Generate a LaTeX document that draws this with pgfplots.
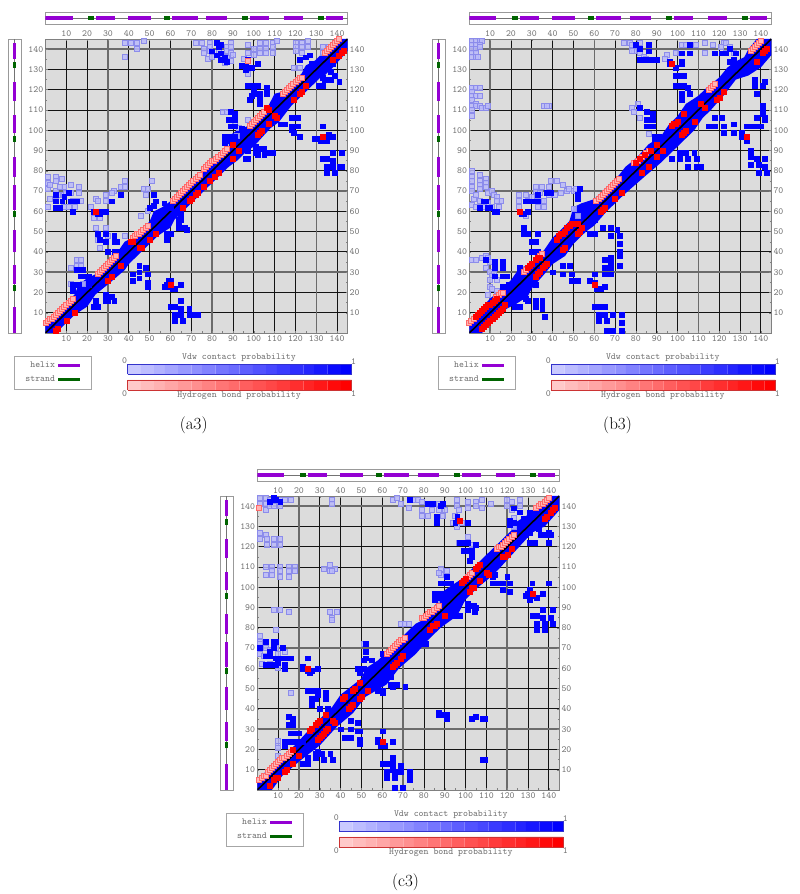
\documentclass[border=0pt]{standalone}
\usepackage{fontspec}
\usepackage{pgfplots}
\pgfplotsset{compat=1.18}

\definecolor{helixc}{RGB}{148,0,211}
\definecolor{strandc}{RGB}{0,100,0}
\definecolor{mapbg}{RGB}{220,220,220}
\definecolor{lightfill}{RGB}{186,186,250}
\definecolor{lightdraw}{RGB}{140,140,235}
\definecolor{pinkfill}{RGB}{255,180,180}
\definecolor{pinkdraw}{RGB}{255,105,105}
\newcommand\tk{\fontsize{9.4}{11}\ttfamily}

\pgfplotsset{
  cmap/.style={scale only axis,width=302pt,height=294pt,
    xmin=0,xmax=145,ymin=0,ymax=145,
    xtick={10,20,...,140},ytick={10,20,...,140},
    /pgf/number format/assume math mode=true,
    tick label style={font=\tk,text=black!55,inner sep=2pt},
    tick style={black!50,line width=.4pt},
    major tick length=2pt,minor tick length=1.5pt,tick align=inside},
  lightpt/.style={only marks,mark=square*,mark size=2.5pt,
    mark options={draw=lightdraw,fill=lightfill,fill opacity=.85,line width=.7pt}},
  bluept/.style={only marks,mark=square*,mark size=2.45pt,
    mark options={draw=blue,fill=blue}},
  pinkpt/.style={only marks,mark=square*,mark size=2.5pt,
    mark options={draw=pinkdraw,fill=pinkfill,line width=.8pt}},
  redpt/.style={only marks,mark=square*,mark size=2.5pt,
    mark options={draw=red,fill=red}},
  band/.style={draw=none,fill=blue},
  diag/.style={black,line width=1.6pt},
  legbox/.style={scale only axis,width=83.3pt,height=33.3pt,hide axis,
    xmin=0,xmax=1,ymin=0,ymax=1,
    legend plot pos=right,legend cell align=right,
    legend image code/.code={\draw[##1] (0pt,0pt)--(22pt,0pt);},
    legend style={at={(0.5,0.5)},anchor=center,draw=black!35,
      font=\tk,text=black!55,row sep=3pt,
      inner xsep=9.5pt,inner ysep=4pt}},
  rampbox/.style={scale only axis,width=224pt,height=10pt,hide axis,
    xmin=16,xmax=100,ymin=0,ymax=1,clip=false},
}

\newcommand\rampcell[3]{\addplot[draw=none,fill=#1!#3] coordinates {(#2,0)(#3,0)(#3,1)(#2,1)} \closedcycle;}
\newcommand\ramp[1]{%
  \rampcell{#1}{16}{21}\rampcell{#1}{21}{26}\rampcell{#1}{26}{30}\rampcell{#1}{30}{35}%
  \rampcell{#1}{35}{40}\rampcell{#1}{40}{44}\rampcell{#1}{44}{49}\rampcell{#1}{49}{54}%
  \rampcell{#1}{54}{58}\rampcell{#1}{58}{63}\rampcell{#1}{63}{68}\rampcell{#1}{68}{72}%
  \rampcell{#1}{72}{77}\rampcell{#1}{77}{82}\rampcell{#1}{82}{86}\rampcell{#1}{86}{91}%
  \rampcell{#1}{91}{96}\rampcell{#1}{96}{100}%
  \addplot[#1!60!gray,line width=.7pt] coordinates {(16,0)(100,0)(100,1)(16,1)(16,0)};}

% secondary structure, same for all three
\newcommand\helixsegs{(0,.5)(13,.5)(nan,.5)(24.3,.5)(33.4,.5)(nan,.5)(39.7,.5)(50.7,.5)(nan,.5)(60.8,.5)(73,.5)(nan,.5)(77,.5)(87,.5)(nan,.5)(98.4,.5)(107.4,.5)(nan,.5)(114.6,.5)(123.7,.5)(nan,.5)(134.9,.5)(142.9,.5)}
\newcommand\strandsegs{(20.5,.5)(23.5,.5)(nan,.5)(57,.5)(60,.5)(nan,.5)(94.4,.5)(97.4,.5)(nan,.5)(130.9,.5)(133.8,.5)}
\newcommand\helixsegsv{(.5,0)(.5,13)(.5,nan)(.5,24.3)(.5,33.4)(.5,nan)(.5,39.7)(.5,50.7)(.5,nan)(.5,60.8)(.5,73)(.5,nan)(.5,77)(.5,87)(.5,nan)(.5,98.4)(.5,107.4)(.5,nan)(.5,114.6)(.5,123.7)(.5,nan)(.5,134.9)(.5,142.9)}
\newcommand\strandsegsv{(.5,20.5)(.5,23.5)(.5,nan)(.5,57)(.5,60)(.5,nan)(.5,94.4)(.5,97.4)(.5,nan)(.5,130.9)(.5,133.8)}

\newcommand\dataA{
\addplot[lightpt] coordinates {(38,136)(38,143)(41,143)(44,143)(44,140)(47,144)
(72,143)(75,143)(76,140)(76,138)(79,143)(79,141)(79,139)(78,135)(80,136)(83,142)(83,139)(85,137)(87,141)(87,139)(87,136)(89,134)(89,143)(89,141)(89,138)(90,137)(86,133)
(97,142)(97,138)(100,140)(100,137)(103,143)(103,140)(103,138)(106,143)(106,140)(106,138)(109,143)(109,141)(109,138)(111,144)
(120,143)(120,141)(120,139)(123,143)(123,141)(123,138)(126,144)(126,141)(119,131)(122,131)(133,141)(133,138)(136,141)
(85,109)(87,109)(91,107)(91,103)(93,101)(97,105)(92,97)(97,128)(95,135)
(1,77)(1,74)(1,71)(2,73)(2,66)(1,62)(5,77)(5,75)(5,70)(8,76)(9,72)(9,68)(12,73)(12,69)(16,72)(16,69)(17,65)(5,65)(6,68)(10,69)(13,65)(15,65)(9,62)(11,62)(14,62)(7,72)
(22,62)(24,66)(25,65)(29,65)(29,68)(33,70)(36,72)(38,72)(38,75)(32,69)(23,57)(26,57)(24,52)(29,52)
(30,48)(29,45)(38,48)(46,58)(49,60)(47,71)(48,68)(51,75)(49,71)
(12,32)(15,36)(17,36)(15,33)(17,33)(12,24)(18,24)(26,42)(25,46)};
\addplot[band] coordinates {(0,5)(14,19)(16,24)(20,27)(24,29)(34,39)(38,45)(42,47)(50,55)(52,60)(56,62)(60,65)(74,79)(78,83)(88,92)(88,97)(92,100)(97,102)(107,112)(110,118)(114,119)(123,128)(125,132)(129,134)(132,137)(134,139)(140,145)(145,145)(145,139)(138,131)(134,127)(132,126)(122,116)(118,112)(112,104)(108,101)(100,92)(96,89)(92,85)(88,82)(80,74)(72,66)(66,60)(62,56)(60,52)(54,48)(48,42)(44,38)(40,34)(38,31)(30,24)(24,19)(20,13)(14,9)(8,3)(5,0)(0,0)} --cycle;
\addplot[bluept] coordinates {(82,143)(83,141)(80,139)(82,137)(84,135)(87,134)(84,138)(86,136)(84,142)
(133,102)(129,96)(131,96)(132,95)(134,95)(135,95)(136,98)(138,97)(133,97)
(133,86)(135,86)(138,89)(142,89)(138,85)(135,82)(138,82)(142,82)(141,82)(135,79)(139,79)
(96,86)(97,86)(97,90)(101,92)(101,89)(105,91)(105,88)(109,89)(102,88)(104,91)(106,89)
(114,103)(113,103)(118,106)(121,106)(118,102)(118,100)(121,102)(122,97)(119,99)(115,103)
(97,122)(99,122)(102,122)(102,118)(103,118)(106,121)(106,118)(103,115)(103,113)(100,120)(98,115)(99,117)
(131,122)(133,122)(136,125)(137,125)(141,124)(134,125)(133,126)(129,126)(139,127)(137,129)(138,133)
(96,132)(97,131)(102,133)(94,132)(96,130)(99,131)(97,135)(125,136)(128,133)(122,135)(127,137)
(89,109)(91,108)(89,105)(88,105)(91,105)(89,102)(91,102)(86,97)(89,97)(86,94)(91,97)(89,95)(94,101)
(5,62)(7,62)(8,65)(12,65)(15,65)(13,60)(5,65)(9,67)(11,69)(5,68)
(32,65)(36,68)(26,59)(29,60)(25,59)(27,60)(23,60)
(25,49)(29,49)(26,46)(29,45)(33,48)(33,45)(34,45)(33,40)(34,40)(30,40)
(15,31)(18,31)(19,28)(21,28)(17,28)(13,24)(13,21)(16,24)(21,24)
(24,16)(23,13)(25,13)(29,16)(29,19)(32,18)(33,16)(30,16)
(42,26)(45,33)(45,30)(45,27)(48,32)(49,29)(49,25)(49,23)(42,29)
(57,23)(59,26)(59,23)(61,22)(62,22)(65,24)(58,24)(60,26)
(60,13)(62,13)(65,16)(65,12)(62,9)(62,6)(66,6)(65,9)(69,12)(69,9)(70,9)(73,9)
(58,49)(60,49)(58,46)(64,56)(65,52)(68,51)(65,59)(64,54)
(52,68)(53,65)(57,64)(60,62)(50,62)(52,63)(65,56)(64,52)(67,52)};
\addplot[pinkpt] coordinates {(0,5)(1,6)(2,7)(3,7)(4,8)(5,9)(6,10)(7,11)(8,12)(9,13)(10,14)(11,15)(12,16)(13,17)
(25,29)(26,30)(27,31)(28,32)(29,33)(30,34)(31,35)(32,36)(33,37)(34,38)
(42,47)(43,48)(44,49)(45,49)(46,50)(47,51)(48,52)(49,53)
(61,65)(62,66)(63,67)(64,68)(65,69)(66,70)(67,71)(68,72)(69,73)(70,74)(71,75)(72,76)(73,77)(74,78)
(76,81)(77,82)(78,83)(79,84)(80,85)(81,85)(82,86)(83,87)(84,88)(85,89)(86,90)(87,91)
(98,102)(99,103)(100,104)(101,105)(102,106)(103,107)(104,108)(105,109)
(114,118)(115,119)(116,120)(117,121)(118,122)(119,123)(120,124)(121,125)(122,126)(123,126)
(134,138)(135,139)(136,140)(137,141)(138,142)(139,143)(140,144)(141,145)(97,134)};
\addplot[redpt] coordinates {(6,2)(5,1)(10,6)(14,10)(30,26)(32,28)(36,33)(41,45)(42,45)(45,42)(46,42)(50,46)(53,49)(24,60)(60,24)
(66,62)(69,65)(70,66)(72,68)(73,69)(76,72)(79,75)(81,77)(83,79)(90,93)(93,90)(90,86)
(102,98)(103,99)(104,100)(107,103)(106,111)(107,110)(110,107)(111,106)(119,115)(122,118)(123,119)(125,122)
(133,97)(138,135)(141,137)(143,139)(142,138)};
\addplot[diag] coordinates {(0,0)(145,145)};
}

\newcommand\dataB{
\addplot[lightpt] coordinates {(1,144)(3,144)(5,144)(6,144)(1,142)(3,142)(5,142)(1,140)(3,140)(5,141)(1,138)(3,138)(1,136)(3,136)(4,136)
(1,121)(3,121)(5,121)(1,119)(1,117)(3,117)(5,117)(1,115)(3,113)(1,112)(3,112)(5,112)(6,111)(8,111)(9,112)(1,110)(1,107)(36,112)(38,112)(37,112)
(1,80)(1,77)(1,75)(1,72)(1,70)(2,66)(1,63)(5,78)(5,75)(5,73)(5,71)(8,76)(8,74)(8,72)(9,69)(11,70)(12,68)(13,67)(5,65)(3,68)(15,65)(13,65)(9,64)(11,62)(7,62)(5,62)(3,62)(14,62)
(24,68)(27,68)(24,65)(28,65)(33,65)(33,62)(35,65)(36,62)(32,70)(32,72)(35,72)(38,72)(39,75)(42,75)(38,68)(41,68)(36,65)(30,67)(34,69)(45,73)(47,70)(50,70)(44,69)(48,71)(51,71)(24,62)(27,58)
(74,143)(77,143)(78,142)(79,139)(82,143)(78,139)(82,138)(84,136)(85,135)(95,137)(94,135)(99,138)(102,142)(104,142)(109,142)(113,143)(113,138)(117,142)(122,143)(123,143)(121,141)(123,138)(125,141)(127,138)
(78,111)(81,113)(79,109)(82,106)(86,98)(52,58)(50,61)
(1,36)(3,36)(6,37)(8,38)(9,37)(10,35)(8,32)(10,30)(12,29)(11,28)(13,26)(10,23)(11,22)(13,21)(9,19)(10,26)};
\addplot[band] coordinates {(0,6)(10,17)(16,22)(20,26)(24,32)(30,34)(36,41)(40,47)(48,55)(50,62)(54,64)(60,66)(65,71)(72,78)(75,82)(80,86)(86,93)(92,97)(96,103)(100,107)(104,113)(110,117)(114,121)(120,126)(124,131)(128,134)(132,136)(134,140)(138,145)(145,145)(145,137)(140,131)(134,127)(128,125)(122,117)(116,110)(112,106)(108,100)(100,92)(92,84)(84,77)(74,68)(66,60)(60,53)(56,50)(50,44)(46,38)(40,34)(36,29)(30,22)(28,18)(22,14)(18,12)(12,6)(6,0)(0,0)} --cycle;
\addplot[bluept] coordinates {(12,60)(13,60)(5,62)(7,65)(9,62)(8,65)(10,62)
(33,68)(37,69)(39,69)(33,65)(27,65)(30,65)(26,59)(28,60)(25,59)(52,66)(52,68)(53,71)
(80,142)(82,140)(86,142)(86,139)(82,135)(84,135)(87,135)(90,135)(96,134)(96,133)(99,131)(102,133)(102,134)(102,138)(106,142)(106,138)(118,138)(121,138)(123,138)(125,140)(128,138)(127,135)(125,134)
(99,127)(101,127)(103,127)(99,122)(101,122)(103,122)(102,118)(102,115)(105,121)(106,118)
(137,125)(137,122)(141,122)(138,118)(142,124)(141,112)(141,110)(141,108)(142,105)(138,106)(142,106)
(133,102)(135,102)(137,102)(140,102)(131,99)(131,97)(133,95)(118,106)(121,106)(115,102)(118,102)(122,102)(122,99)(127,103)(127,99)
(135,90)(135,87)(138,86)(142,86)(135,83)(139,83)(142,82)(139,79)(143,79)
(97,86)(101,89)(104,89)(108,89)(101,86)(105,86)(109,86)(105,82)(109,82)(111,82)
(82,111)(85,109)(88,108)(85,105)(88,105)(85,102)(88,102)(89,97)(91,97)(89,94)
(64,52)(68,52)(71,51)(68,48)(72,48)(72,44)(72,40)(72,38)(72,33)(68,37)(68,35)(65,36)(65,32)(68,32)(65,29)(68,29)(60,29)(58,26)(60,25)(65,23)(63,22)(61,22)
(45,33)(48,33)(45,29)(49,29)(49,26)(52,26)(40,30)(32,24)(58,49)(60,49)(58,55)(60,56)
(60,13)(62,13)(65,13)(62,9)(65,9)(69,9)(73,9)(62,6)(66,6)(73,5)(66,1)(69,1)(73,1)
(26,18)(28,16)(32,16)(35,16)(32,13)(35,14)(35,12)(36,8)(22,13)(24,13)(27,17)
(26,52)(26,49)(28,49)(33,49)(30,45)(32,45)(30,40)(33,40)(24,32)
(8,36)(12,35)(16,35)(12,32)(16,32)(12,28)(16,28)(18,28)(16,23)(19,24)(18,22)};
\addplot[pinkpt] coordinates {(0,5)(1,6)(2,7)(13,18)(14,19)(15,20)(16,20)(26,30)(27,31)(34,38)(35,39)
(61,65)(62,66)(63,67)(64,68)(65,69)(66,70)(67,71)(68,72)(69,73)(70,74)(71,75)(72,76)
(79,84)(81,85)(83,87)(85,89)(86,90)(115,120)(116,121)(117,122)(118,123)(135,139)(136,140)(137,141)(138,142)(139,143)(140,144)};
\addplot[redpt] coordinates {(3,8)(4,9)(5,10)(6,11)(7,12)(8,13)(9,14)(10,14)(11,15)(12,16)(13,17)
(6,2)(7,3)(8,4)(9,5)(10,6)(11,7)(12,8)(13,9)(14,10)(15,11)(16,12)(17,14)
(28,32)(29,33)(30,34)(32,36)(33,37)(34,37)(32,28)(33,29)(34,30)(35,32)(36,33)(37,34)
(42,46)(43,48)(44,49)(45,49)(46,50)(47,52)(48,53)(49,54)(46,42)(45,41)(52,49)(53,50)(54,52)(52,54)
(24,60)(60,24)(63,60)(64,61)(65,62)(70,66)(73,69)(83,79)(86,82)(90,87)(93,90)(90,93)(87,90)(80,84)(82,86)(84,88)
(97,102)(98,103)(99,103)(100,104)(103,108)(103,99)(104,100)(102,98)(108,104)(111,113)(113,111)(119,115)(120,116)(122,119)
(97,133)(133,97)(138,134)(141,138)(143,140)(142,139)};
\addplot[diag] coordinates {(0,0)(145,145)};
}

\newcommand\dataC{
\addplot[lightpt] coordinates {(1,144)(1,141)(4,144)(4,141)(4,138)(6,143)(6,140)(8,140)(11,143)(11,140)(13,143)(16,143)(36,143)(36,141)
(65,143)(67,144)(69,141)(73,139)(75,143)(77,143)(79,142)(79,138)(79,135)(82,135)(84,138)(87,141)(87,138)(90,138)(89,135)
(96,143)(96,140)(101,142)(101,139)(105,142)(105,140)(108,143)(108,139)(112,141)(95,135)(94,132)(96,130)(98,132)(97,138)
(120,143)(120,140)(122,142)(126,143)(126,140)(122,138)(123,134)(123,130)
(1,127)(1,124)(4,126)(4.5,124)(8,124)(11,124)(4.5,121)(8,121)(11,121)
(4,110)(7,110)(7,108)(4,106)(7,106)(11,110)(11,108)(11,105)(15,110)(15,108)(15,105)(18,110)(18,108)(32,109)(35,111)(35,108)(37,109)(36,108)
(8,89)(11,89)(15,88)(35,88)(38,88)(36,85)(36,84)(9,79)(69,82)(71,82)(73,82)
(1,76)(1,73)(4,73)(1,67)(4,70)(1,72)(6,69)(2,62)(6,62)(10,60)(10,67)(13,68)(3,66)(9,70)(16,48)
(10,24)(10,22)(10,21)(10,17)(51,72)(97,122)(101,125)(103,121)(88,109)(91,108)(88,106)(87,107)(86,94)};
\addplot[band] coordinates {(0,5)(10,15)(18,22)(26,31)(36,41)(40,47)(50,55)(52,60)(58,64)(64,70)(72,78)(76,82)(80,84)(86,92)(88,97)(92,100)(98,104)(106,112)(110,116)(114,120)(122,128)(124,132)(132,137)(138,143)(140,145)(145,145)(145,138)(138,130)(132,127)(124,118)(116,109)(112,105)(106,100)(100,94)(96,86)(88,80)(82,74)(76,67)(68,60)(62,52)(52,46)(46,38)(38,31)(30,22)(20,14)(12,7)(7,0)(0,0)} --cycle;
\addplot[bluept] coordinates {(8,144)(9,143)(11,142)(6,142)(73,143)(82,141)(84,141)(86,135)(86,132)(88,140)(89,141)(96,135)(101,132)(95,132)
(121,133)(121,131)(126,137)(123,139)(131,137)(126,131)(123,132)(128,134)
(4,73)(8,73)(9,73)(1,70)(8,70)(12,70)(4,66)(6,66)(9,65)(11,65)(13,65)(16,65)(7,62)(4,62)(9,62)(13,62)(13,60)(10,63)(6,68)
(24,65)(22,61)(25,58)(29,60)(22,60)(26,59)(24,59)
(24,49)(26,49)(29,49)(29,47)(33,48)(26,45)(28,45)(33,45)(26,42)(30,40)(34,40)
(15,36)(17,35)(15,32)(17,32)(16,28)(20,28)(18,28)(16,24)(13,24)(13,22)(17,24)(22,24)(19,24)
(24,16)(22,13)(24,13)(28,18)(28,16)(31,18)(35,18)(32,15)(36,15)(29,19)
(40,30)(45,34)(48,33)(45,30)(48,29)(49,29)(45,26)(42,26)(49,25)(49,23)
(60,29)(58,25)(59,23)(61,22)(65,24)(58,24)(59,22)
(60,13)(62,13)(65,16)(65,13)(65,10)(69,12)(62,9)(62,6)(66,6)(66,9)(69,9)(73,9)(73,7)(73,5)(66,1)(70,1)
(87,38)(87,37)(88,37)(91,37)(91,35)(103,35)(105,36)(108,35)(109,35)(108,15)(109,15)
(48,60)(52,65)(52,68)(51,64)(55,64)(60,67)(51,60)(49,58)(52,72)(58,49)(60,49)(60,48)(58,50)(64,56)(64,52)(67,52)(71,51)(65,51)(78,72)(81,72)
(97,122)(100,122)(101,122)(105,121)(99,118)(100,118)(103,118)(102,113)(103,115)
(113,105)(113,102)(115,102)(118,102)(118,99)(121,102)(121,98)(120,105)(114,106)
(132,102)(140,102)(130,97)(131,99)(134,95)(137,97)(131,94)(129,96)(132,96)
(137,89)(142,89)(132,86)(134,86)(137,85)(141,85)(134,82)(138,82)(142,82)(134,79)(138,79)
(95,86)(97,86)(101,92)(101,89)(104,91)(104.5,88)(105,90)
(91,105)(88,102)(91,102)(93,102)(85,97)(88,97)(88,95)(85,94)
(131,122)(133,122)(129,126)(131,127)(136,126)(138,126)(140,127)(141,126)(140,122)(135,129)};
\addplot[pinkpt] coordinates {(1,139)(1,5)(2,6)(3,7)(4,7)(5,9)(6,10)(7,11)(8,12)(9,13)(10,14)(11,15)(12,16)(13,16)(14,17)(15,18)(16,19)
(62,67)(63,68)(64,69)(65,70)(66,71)(67,72)(68,73)(69,74)(70,74)(71,75)
(79,85)(80,85)(81,86)(82,87)(83,88)(84,88)(85,89)(86,90)(87,91)
(115,119)(116,120)(117,120)(118,121)(119,122)(120,123)(121,124)(122,125)(123,126)
(134,139)(135,140)(136,141)(137,141)(138,142)(139,143)(140,144)(101,105)(102,106)(103,107)};
\addplot[redpt] coordinates {(17,20)(6,2)(8,5)(9,6)(10,6)(13,9)(14,10)(17,13)(20,17)
(25,29)(26,30)(28,32)(29,33)(30,34)(33,37)(37,33)(36,34)(33,29)(34,30)(29,25)(30,26)(32,28)(31,27)
(41,45)(42,46)(46,49)(47,50)(49,53)(53,49)(49,45)(50,46)(45,41)(46,42)(44,40)
(24,60)(60,24)(69,65)(67,63)(65,61)(66,62)(70,66)(97,133)(132,97)
(90,86)(83,79)(84,81)(85,81)(86,82)
(99,103)(98,102)(100,104)(106,110)(107,111)(105,109)(107,103)(102,98)(103,100)(104,100)(110,107)(111,106)(118,115)(119,115)(120,116)(122,119)
(138,134)(139,135)(141,137)(142,138)(143,139)};
\addplot[diag] coordinates {(0,0)(145,145)};
}

% #1 dx, #2 dy, #3 data, #4 caption, #5 wide x grid lines, #6 wide y grid lines
\newcommand\panel[6]{%
  % map
  \begin{axis}[cmap,at={({#1pt+45.5pt},{894pt-#2pt-333pt})},anchor=south west,
    axis line style={black!50},axis background/.style={fill=mapbg},
    xticklabel pos=bottom,yticklabel pos=left,minor tick num=1,
    grid=major,major grid style={black!92,line width=.85pt},
    extra x ticks={#5},extra y ticks={#6},
    extra x tick labels={},extra y tick labels={},
    extra tick style={major grid style={black!58,line width=1.5pt}}]
    #3
  \end{axis}
  % tick labels of the other two sides
  \begin{axis}[cmap,at={({#1pt+45.5pt},{894pt-#2pt-333pt})},anchor=south west,
    axis line style={draw=none},xticklabel pos=top,yticklabel pos=right,
    tick style={draw=none}]
    \addplot[draw=none] coordinates {(0,0)(145,145)};
  \end{axis}
  % top strip
  \begin{axis}[scale only axis,width=302pt,height=12pt,at={({#1pt+45.5pt},{894pt-#2pt-24pt})},anchor=south west,
    xmin=0,xmax=145,ymin=0,ymax=1,ticks=none,axis line style={black!40},unbounded coords=jump]
    \addplot[black!55,line width=.7pt] coordinates {(0,.5)(145,.5)};
    \addplot[helixc,line width=3.3pt] coordinates {\helixsegs};
    \addplot[strandc,line width=3.3pt] coordinates {\strandsegs};
  \end{axis}
  % left strip
  \begin{axis}[scale only axis,width=12.5pt,height=294pt,at={({#1pt+8.5pt},{894pt-#2pt-333pt})},anchor=south west,
    xmin=0,xmax=1,ymin=0,ymax=145,ticks=none,axis line style={black!40},unbounded coords=jump]
    \addplot[black!55,line width=.7pt] coordinates {(.5,0)(.5,145)};
    \addplot[helixc,line width=3.3pt] coordinates {\helixsegsv};
    \addplot[strandc,line width=3.3pt] coordinates {\strandsegsv};
  \end{axis}
  % legend
  \begin{axis}[legbox,at={({#1pt+11pt},{894pt-#2pt-389.3pt})},anchor=south west]
    \addlegendimage{helixc,line width=2.8pt}\addlegendentry{helix}
    \addlegendimage{strandc,line width=2.8pt}\addlegendentry{strand}
  \end{axis}
  % probability scales
  \begin{axis}[rampbox,at={({#1pt+127.5pt},{894pt-#2pt-374.3pt})},anchor=south west]
    \ramp{blue}
  \end{axis}
  \begin{axis}[rampbox,at={({#1pt+127.5pt},{894pt-#2pt-390pt})},anchor=south west]
    \ramp{red}
  \end{axis}
  \foreach \tx/\ty/\tl in {239/357.5/Vdw contact probability,239/396/Hydrogen bond probability,124.5/361/0,124.5/393.5/0,353.5/362/1,353.5/393.5/1}
    {\node[font=\tk,text=black!55,inner sep=0pt] at ({#1pt+\tx pt},{894pt-#2pt-\ty pt}) {\tl};}
  \node[font=\fontsize{17}{20}\selectfont,inner sep=0pt] at ({#1pt+193.7pt},{894pt-#2pt-425pt}) {#4};
}

\begin{document}
\begin{tikzpicture}
\path (0,0) rectangle (800pt,894pt);
\panel{0}{0}{\dataA}{(a3)}{30,80,130}{30,70,140}
\panel{423.8}{0}{\dataB}{(b3)}{10,60,110}{30,70,140}
\panel{211.8}{457}{\dataC}{(c3)}{20,70,120}{30,70,140}
\end{tikzpicture}
\end{document}
